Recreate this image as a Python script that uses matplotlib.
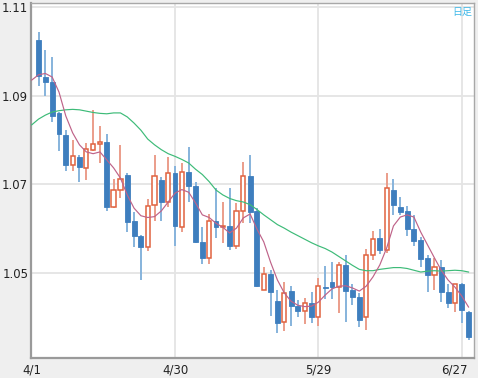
import matplotlib
matplotlib.use("Agg")
import matplotlib.pyplot as plt
import matplotlib.transforms as mtransforms
import numpy as np
import pandas as pd

# Daily candles 2019-04-01 .. 2019-06-28, Good Friday has no bar
dates = pd.bdate_range("2019-04-01", "2019-06-28").drop(pd.Timestamp("2019-04-19"))

opens = [1.1026, 1.0943, 1.0931, 1.0861, 1.0812, 1.0743, 1.0762, 1.0737, 1.0778, 1.0790,
         1.0796, 1.0649, 1.0687, 1.0721, 1.0617, 1.0583, 1.0558, 1.0653, 1.0710, 1.0661,
         1.0726, 1.0603, 1.0728, 1.0697, 1.0570, 1.0533, 1.0617, 1.0603, 1.0606, 1.0561,
         1.0640, 1.0719, 1.0640, 1.0461, 1.0497, 1.0437, 1.0390, 1.0459, 1.0426, 1.0415,
         1.0433, 1.0401, 1.0469, 1.0479, 1.0469, 1.0518, 1.0461, 1.0446, 1.0400, 1.0540,
         1.0578, 1.0551, 1.0687, 1.0649, 1.0640, 1.0598, 1.0574, 1.0533, 1.0495, 1.0514,
         1.0456, 1.0433, 1.0475, 1.0412]
highs = [1.1044, 1.1003, 1.0988, 1.0863, 1.0822, 1.0800, 1.0766, 1.0793, 1.0868, 1.0831,
         1.0813, 1.0711, 1.0789, 1.0725, 1.0638, 1.0585, 1.0667, 1.0766, 1.0716, 1.0762,
         1.0742, 1.0749, 1.0785, 1.0706, 1.0603, 1.0633, 1.0691, 1.0661, 1.0691, 1.0658,
         1.0751, 1.0766, 1.0646, 1.0514, 1.0506, 1.0461, 1.0480, 1.0470, 1.0439, 1.0443,
         1.0457, 1.0488, 1.0515, 1.0525, 1.0525, 1.0540, 1.0476, 1.0454, 1.0555, 1.0595,
         1.0600, 1.0725, 1.0713, 1.0672, 1.0650, 1.0631, 1.0582, 1.0540, 1.0533, 1.0529,
         1.0476, 1.0476, 1.0478, 1.0415]
lows = [1.0922, 1.0900, 1.0840, 1.0775, 1.0731, 1.0731, 1.0704, 1.0709, 1.0776, 1.0747,
        1.0640, 1.0647, 1.0669, 1.0593, 1.0559, 1.0485, 1.0549, 1.0618, 1.0617, 1.0648,
        1.0561, 1.0593, 1.0659, 1.0567, 1.0521, 1.0521, 1.0578, 1.0567, 1.0551, 1.0554,
        1.0612, 1.0612, 1.0469, 1.0461, 1.0403, 1.0364, 1.0369, 1.0380, 1.0400, 1.0384,
        1.0386, 1.0381, 1.0440, 1.0442, 1.0409, 1.0390, 1.0427, 1.0378, 1.0371, 1.0529,
        1.0543, 1.0545, 1.0631, 1.0631, 1.0584, 1.0561, 1.0514, 1.0457, 1.0461, 1.0435,
        1.0420, 1.0412, 1.0386, 1.0348]
closes = [1.0944, 1.0930, 1.0855, 1.0813, 1.0743, 1.0764, 1.0738, 1.0780, 1.0791, 1.0796,
          1.0649, 1.0687, 1.0711, 1.0614, 1.0583, 1.0558, 1.0652, 1.0719, 1.0661, 1.0726,
          1.0606, 1.0728, 1.0697, 1.0569, 1.0533, 1.0617, 1.0603, 1.0606, 1.0561, 1.0640,
          1.0719, 1.0638, 1.0471, 1.0497, 1.0457, 1.0386, 1.0455, 1.0426, 1.0415, 1.0433,
          1.0400, 1.0471, 1.0465, 1.0469, 1.0518, 1.0460, 1.0445, 1.0394, 1.0540, 1.0576,
          1.0551, 1.0691, 1.0653, 1.0638, 1.0600, 1.0573, 1.0531, 1.0495, 1.0514, 1.0457,
          1.0433, 1.0474, 1.0416, 1.0356]

# moving averages; first value belongs to the session before 4/1
ma_short = [1.0935, 1.0947, 1.0950, 1.0942, 1.0908, 1.0854, 1.0816, 1.0789, 1.0773, 1.0769,
            1.0773, 1.0755, 1.0737, 1.0714, 1.0676, 1.0646, 1.0629, 1.0625, 1.0627, 1.0640,
            1.0660, 1.0680, 1.0688, 1.0682, 1.0658, 1.0631, 1.0625, 1.0612, 1.0603, 1.0590,
            1.0601, 1.0624, 1.0633, 1.0599, 1.0570, 1.0524, 1.0484, 1.0455, 1.0436, 1.0427,
            1.0424, 1.0425, 1.0434, 1.0450, 1.0464, 1.0470, 1.0471, 1.0466, 1.0459, 1.0470,
            1.0491, 1.0518, 1.0556, 1.0606, 1.0626, 1.0631, 1.0626, 1.0592, 1.0563, 1.0534,
            1.0506, 1.0484, 1.0468, 1.0448, 1.0423]
ma_long = [1.0834, 1.0847, 1.0856, 1.0863, 1.0866, 1.0868, 1.0869, 1.0868, 1.0865, 1.0862,
           1.0860, 1.0859, 1.0861, 1.0861, 1.0852, 1.0838, 1.0822, 1.0802, 1.0789, 1.0778,
           1.0769, 1.0763, 1.0756, 1.0748, 1.0734, 1.0722, 1.0706, 1.0687, 1.0676, 1.0668,
           1.0663, 1.0660, 1.0654, 1.0643, 1.0631, 1.0620, 1.0609, 1.0601, 1.0592, 1.0584,
           1.0576, 1.0568, 1.0561, 1.0555, 1.0547, 1.0537, 1.0527, 1.0517, 1.0508, 1.0505,
           1.0505, 1.0508, 1.0510, 1.0512, 1.0512, 1.0510, 1.0506, 1.0502, 1.0504, 1.0505,
           1.0504, 1.0505, 1.0506, 1.0505, 1.0502]

y_ticks = [1.05, 1.07, 1.09, 1.11]
label_dates = ["2019-04-01", "2019-04-30", "2019-05-29", "2019-06-27"]

UP_EDGE = "#e0623f"
UP_WICK = "#eb9d8a"
DOWN_BODY = "#3e7ebe"
DOWN_WICK = "#86b3dc"
GRID = "#e4e4e4"

fig = plt.figure(figsize=(4.78, 3.78), dpi=100, facecolor="#efefef")
ax = fig.add_axes([31 / 478, 20 / 378, 443 / 478, 355 / 378], facecolor="white")

o = np.array(opens)
c = np.array(closes)
x = np.arange(len(o))
up = c >= o

ax.vlines(x, lows, highs, colors=np.where(up, UP_WICK, DOWN_WICK), linewidth=1.4, zorder=2)
ax.bar(x[~up], (c - o)[~up], bottom=o[~up], width=0.72, color=DOWN_BODY,
       edgecolor=DOWN_BODY, linewidth=0.6, zorder=3)
ax.bar(x[up], np.maximum((c - o)[up], 0.00012), bottom=o[up], width=0.62, color="white",
       edgecolor=UP_EDGE, linewidth=1.1, zorder=3)

xm = np.arange(-1, len(o))
ax.plot(xm, ma_long, color="#3dbb78", linewidth=0.85, zorder=4)
ax.plot(xm, ma_short, color="#bf6389", linewidth=0.85, zorder=4)

ax.set_xlim(-1.1, 63.8)
ax.set_ylim(1.0308, 1.1109)

# gridlines
ax.set_yticks(y_ticks)
ax.set_yticklabels([f"{v:.2f}" for v in y_ticks])
ax.yaxis.grid(True, color=GRID, linewidth=1.3, zorder=0)
tick_pos = [dates.get_loc(pd.Timestamp(d)) for d in label_dates]
for p in tick_pos[1:]:
    ax.axvline(p, color=GRID, linewidth=1.3, zorder=0)
ax.set_xticks(tick_pos)
ax.set_xticklabels([f"{pd.Timestamp(d).month}/{pd.Timestamp(d).day}" for d in label_dates])
ax.set_axisbelow(True)

ax.tick_params(length=0, labelsize=8.5, colors="#222222")
ax.tick_params(axis="y", pad=2)
ax.tick_params(axis="x", pad=4)
labels = ax.get_xticklabels()
labels[0].set_transform(labels[0].get_transform() + mtransforms.ScaledTranslation(-6.5 / 100, 0, fig.dpi_scale_trans))
labels[-1].set_transform(labels[-1].get_transform() + mtransforms.ScaledTranslation(-7.5 / 100, 0, fig.dpi_scale_trans))

for side in ("left", "bottom"):
    ax.spines[side].set_color("#9a9a9a")
    ax.spines[side].set_linewidth(1.6)
for side in ("top", "right"):
    ax.spines[side].set_color("#a8a8a8")
    ax.spines[side].set_linewidth(1.0)

ax.text(0.995, 0.99, "日足", transform=ax.transAxes, ha="right", va="top",
        fontsize=7.2, color="#3fb8e8", family=["Noto Sans CJK JP", "DejaVu Sans"])

fig.savefig("out.png", dpi=100, facecolor=fig.get_facecolor())
